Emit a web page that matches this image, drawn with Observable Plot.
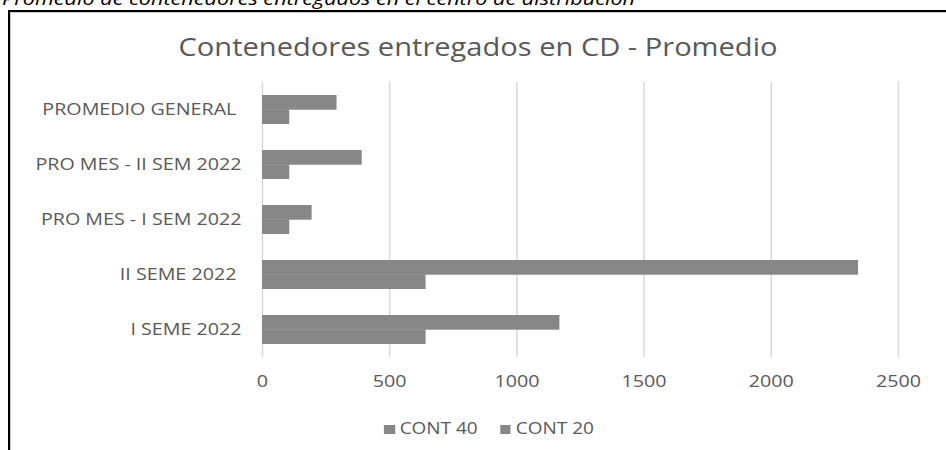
<!DOCTYPE html>
<html>
<head>
<meta charset="utf-8">
<script src="https://cdn.jsdelivr.net/npm/d3@7"></script>
<script src="https://cdn.jsdelivr.net/npm/@observablehq/plot@0.6"></script>
<style>
  html, body { margin: 0; padding: 0; width: 946px; height: 450px; overflow: hidden; background: #fff; }
  body { position: relative; font-family: "Open Sans", sans-serif; }
  #caption { position: absolute; left: 2px; top: -11px; font-size: 18px; line-height: 18px; font-style: italic; color: #000; white-space: nowrap; transform: scaleX(1.2); transform-origin: left center; }
  #frame { position: absolute; left: 8px; top: 10px; width: 1000px; height: 500px; border: 2px solid #000; box-sizing: border-box; box-shadow: inset 1px 1px 0 #c8c8c8; }
  #title { position: absolute; left: 0; width: 956px; top: 34px; font-size: 25.5px; line-height: 25px; color: #595959; text-align: center; white-space: nowrap; transform: scaleX(1.14); transform-origin: 50% 50%; }
  #chart { position: absolute; left: 0; top: 0; }
  #chart text { white-space: pre; }
  #legend { position: absolute; left: 0; width: 978px; top: 419px; display: flex; justify-content: center; gap: 20px; transform: scaleX(1.13); transform-origin: 50% 50%; }
  .item { display: flex; align-items: flex-start; gap: 4.4px; font-size: 16.8px; line-height: 17px; color: #595959; white-space: nowrap; }
  .swatch { width: 9.4px; height: 9.4px; margin-top: 5.6px; }
</style>
</head>
<body>
<div id="caption">Promedio de contenedores entregados en el centro de distribución</div>
<div id="frame"></div>
<div id="title">Contenedores entregados en CD - Promedio</div>
<div id="chart"></div>
<div id="legend"></div>
<script>
// Categories, top to bottom
const categories = [
  "PROMEDIO GENERAL ",
  "PRO MES - II SEM 2022",
  "PRO MES - I SEM 2022",
  "II SEME 2022 ",
  "I SEME 2022"
];
// Containers delivered per category
const cont40 = [293, 392, 195, 2343, 1169];
const cont20 = [107, 107, 107, 643, 643];
// Axis ticks
const xTicks = [0, 500, 1000, 1500, 2000, 2500];
// Series names and fills
const seriesNames = ["CONT 40", "CONT 20"];
const seriesColors = ["#878787", "#878787"];

const rows40 = categories.map((c, i) => ({category: c, value: cont40[i]}));
const rows20 = categories.map((c, i) => ({category: c, value: cont20[i]}));

const W = 946, H = 450;
const mTop = 82, mBottom = 93, mLeft = 262, mRight = 48;
const padIn = 0.48, padOut = 0.24;
const step = (H - mTop - mBottom) / (categories.length - padIn + 2 * padOut);
const half = step * (1 - padIn) / 2;

const chart = Plot.plot({
  width: W,
  height: H,
  marginTop: mTop,
  marginBottom: mBottom,
  marginLeft: mLeft,
  marginRight: mRight,
  style: {fontFamily: '"Open Sans", sans-serif', fontSize: "15.5px", color: "#595959", background: "transparent"},
  x: {domain: [xTicks[0], xTicks[xTicks.length - 1]], ticks: xTicks, tickFormat: d => String(d), tickSize: 0, tickPadding: 18, label: null},
  y: {type: "band", domain: categories, paddingInner: padIn, paddingOuter: padOut, tickSize: 0, tickPadding: 21, label: null},
  marks: [
    Plot.ruleX(xTicks, {stroke: "#d9d9d9", strokeWidth: 1.5}),
    Plot.barX(rows40, {x: "value", y: "category", fill: seriesColors[0], insetBottom: half}),
    Plot.barX(rows20, {x: "value", y: "category", fill: seriesColors[1], insetTop: half})
  ]
});
document.getElementById("chart").append(chart);

// Widen axis labels horizontally to the chart's stretched lettering
function widen(el, k) {
  const w = el.getComputedTextLength();
  el.setAttribute("textLength", (w * k).toFixed(1));
  el.setAttribute("lengthAdjust", "spacingAndGlyphs");
}
const yNames = new Set(categories);
const xNames = new Set(xTicks.map(String));
chart.querySelectorAll("text").forEach(t => {
  const s = t.textContent;
  if (yNames.has(s)) {
    t.style.fontSize = "15.5px";
    widen(t, 1.27);
  } else if (xNames.has(s)) {
    t.style.fontSize = "16.4px";
    widen(t, 1.2);
  }
});

// Legend
const legend = document.getElementById("legend");
seriesNames.forEach((name, i) => {
  const item = document.createElement("div");
  item.className = "item";
  const sw = document.createElement("div");
  sw.className = "swatch";
  sw.style.background = seriesColors[i];
  const label = document.createElement("span");
  label.textContent = name;
  item.append(sw, label);
  legend.append(item);
});
</script>
</body>
</html>
